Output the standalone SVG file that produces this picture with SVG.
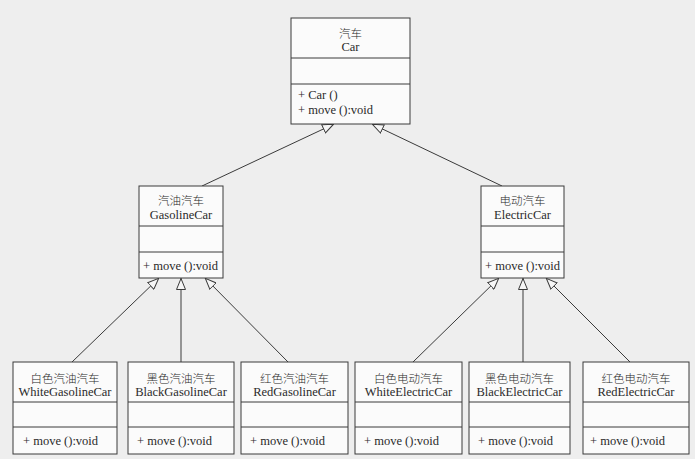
<svg xmlns="http://www.w3.org/2000/svg" width="695" height="459" viewBox="0 0 695 459">
<defs>
<style>
.box{fill:#fbfbfb;stroke:#3a3a3a;stroke-width:1}
.div{stroke:#3a3a3a;stroke-width:1}
.t{font-family:"Liberation Serif","Noto Sans CJK SC",serif;font-size:12.5px;fill:#2a2a2a}
.cn{font-family:"Noto Sans CJK SC","Liberation Serif",sans-serif;font-size:11.5px;fill:#2a2a2a;font-weight:300}
.c{text-anchor:middle}
.conn line{stroke:#3a3a3a;stroke-width:1;marker-end:url(#gen)}
</style>
<marker id="gen" markerUnits="userSpaceOnUse" viewBox="0 0 12 10" refX="12" refY="5" markerWidth="12" markerHeight="10" orient="auto">
<path d="M0.5,0.5 L11.5,5 L0.5,9.5 Z" fill="#f6f6f6" stroke="#3a3a3a" stroke-width="1"/>
</marker>
</defs>
<rect width="695" height="459" fill="#eeeeee"/>
<g id="connectors" class="conn">
<line x1="202" y1="186" x2="334" y2="124"/>
<line x1="502" y1="186" x2="372" y2="124"/>
<line x1="72" y1="362" x2="159" y2="278"/>
<line x1="181" y1="362" x2="181" y2="278"/>
<line x1="288" y1="362" x2="205" y2="278"/>
<line x1="413" y1="362" x2="499" y2="278"/>
<line x1="523" y1="362" x2="523" y2="278"/>
<line x1="630" y1="362" x2="546" y2="278"/>
</g>
<g id="Car">
<rect class="box" x="291" y="18" width="119" height="106"/>
<line class="div" x1="291" y1="58" x2="410" y2="58"/>
<line class="div" x1="291" y1="84" x2="410" y2="84"/>
<text class="cn c" x="350.5" y="38">汽车</text>
<text class="t c" x="350.5" y="51">Car</text>
<text class="t" x="298" y="99">+ Car ()</text>
<text class="t" x="298" y="114">+ move ():void</text>
</g>
<g id="GasolineCar">
<rect class="box" x="139" y="186" width="84" height="92"/>
<line class="div" x1="139" y1="226" x2="223" y2="226"/>
<line class="div" x1="139" y1="252" x2="223" y2="252"/>
<text class="cn c" x="181" y="205">汽油汽车</text>
<text class="t c" x="181" y="219">GasolineCar</text>
<text class="t" x="143" y="270">+ move ():void</text>
</g>
<g id="ElectricCar">
<rect class="box" x="481" y="186" width="83" height="92"/>
<line class="div" x1="481" y1="226" x2="564" y2="226"/>
<line class="div" x1="481" y1="252" x2="564" y2="252"/>
<text class="cn c" x="522.5" y="205">电动汽车</text>
<text class="t c" x="522.5" y="219">ElectricCar</text>
<text class="t" x="485" y="270">+ move ():void</text>
</g>
<g id="WhiteGasolineCar">
<rect class="box" x="13" y="362" width="104" height="92"/>
<line class="div" x1="13" y1="402" x2="117" y2="402"/>
<line class="div" x1="13" y1="427" x2="117" y2="427"/>
<text class="cn c" x="65" y="383">白色汽油汽车</text>
<text class="t c" x="65" y="396">WhiteGasolineCar</text>
<text class="t" x="23" y="445">+ move ():void</text>
</g>
<g id="BlackGasolineCar">
<rect class="box" x="128" y="362" width="106" height="92"/>
<line class="div" x1="128" y1="402" x2="234" y2="402"/>
<line class="div" x1="128" y1="427" x2="234" y2="427"/>
<text class="cn c" x="181" y="383">黑色汽油汽车</text>
<text class="t c" x="181" y="396">BlackGasolineCar</text>
<text class="t" x="137" y="445">+ move ():void</text>
</g>
<g id="RedGasolineCar">
<rect class="box" x="241" y="362" width="107" height="92"/>
<line class="div" x1="241" y1="402" x2="348" y2="402"/>
<line class="div" x1="241" y1="427" x2="348" y2="427"/>
<text class="cn c" x="294.5" y="383">红色汽油汽车</text>
<text class="t c" x="294.5" y="396">RedGasolineCar</text>
<text class="t" x="250" y="445">+ move ():void</text>
</g>
<g id="WhiteElectricCar">
<rect class="box" x="355" y="362" width="107" height="92"/>
<line class="div" x1="355" y1="402" x2="462" y2="402"/>
<line class="div" x1="355" y1="427" x2="462" y2="427"/>
<text class="cn c" x="408.5" y="383">白色电动汽车</text>
<text class="t c" x="408.5" y="396">WhiteElectricCar</text>
<text class="t" x="364" y="445">+ move ():void</text>
</g>
<g id="BlackElectricCar">
<rect class="box" x="469" y="362" width="101" height="92"/>
<line class="div" x1="469" y1="402" x2="570" y2="402"/>
<line class="div" x1="469" y1="427" x2="570" y2="427"/>
<text class="cn c" x="519.5" y="383">黑色电动汽车</text>
<text class="t c" x="519.5" y="396">BlackElectricCar</text>
<text class="t" x="478" y="445">+ move ():void</text>
</g>
<g id="RedElectricCar">
<rect class="box" x="583" y="362" width="106" height="92"/>
<line class="div" x1="583" y1="402" x2="689" y2="402"/>
<line class="div" x1="583" y1="427" x2="689" y2="427"/>
<text class="cn c" x="636" y="383">红色电动汽车</text>
<text class="t c" x="636" y="396">RedElectricCar</text>
<text class="t" x="590" y="445">+ move ():void</text>
</g>
</svg>
